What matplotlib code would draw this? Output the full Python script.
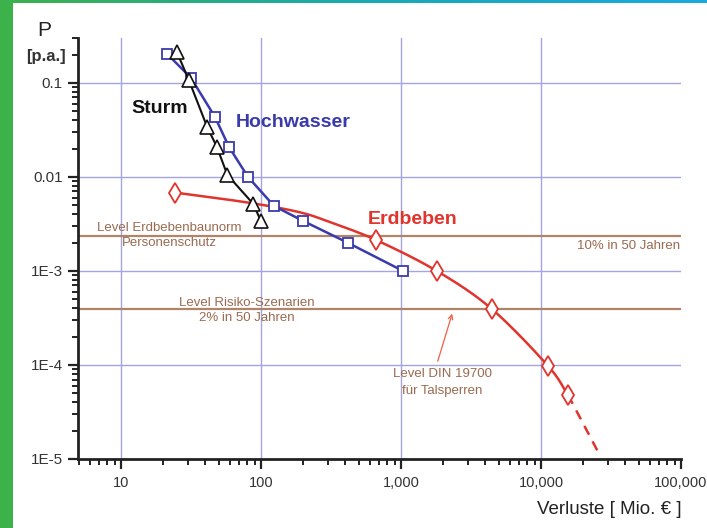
import numpy as np
import matplotlib
matplotlib.use("Agg")
import matplotlib.pyplot as plt
from matplotlib.ticker import LogLocator, FixedLocator, NullFormatter
from matplotlib.colors import LinearSegmentedColormap

plt.rcParams['font.family'] = ['Liberation Sans', 'DejaVu Sans']

# ---------------- data ----------------
sturm_x = [25.0, 30.6, 41.3, 48.3, 57.5, 88.1, 99.5]
sturm_y = [0.215, 0.106, 0.0338, 0.0210, 0.0105, 0.00516, 0.00343]

hoch_x = [21.3, 31.6, 46.9, 59.1, 80.7, 124, 200, 418, 1033]
hoch_y = [0.204, 0.113, 0.0434, 0.0208, 0.0100, 0.0049, 0.0034, 0.00199, 0.0010]

erd_curve_x = [24.5, 83, 190, 311, 660, 1800, 4450, 11200, 15600]
erd_curve_y = [0.0068, 0.0053, 0.0042, 0.0033, 0.00214, 0.0010, 0.000394, 9.8e-5, 4.8e-5]
erd_mark_x = [24.5, 660, 1800, 4450, 11200, 15600]
erd_mark_y = [0.0068, 0.00214, 0.0010, 0.000394, 9.8e-5, 4.8e-5]
erd_dash_x = [15600, 25500]
erd_dash_y = [4.8e-5, 1.2e-5]

level_10pct = 0.00235
level_2pct = 0.000394

x_ticks = [10, 100, 1000, 10000, 100000]
x_ticklabels = ["10", "100", "1,000", "10,000", "100,000"]
y_ticks = [1e-5, 1e-4, 1e-3, 1e-2, 1e-1]
y_ticklabels = ["1E-5", "1E-4", "1E-3", "0.01", "0.1"]

# ---------------- helpers ----------------
def catmull_rom(xs, ys, n=20):
    P = np.column_stack([np.log10(xs), np.log10(ys)])
    P = np.vstack([2 * P[0] - P[1], P, 2 * P[-1] - P[-2]])
    out = []
    for i in range(1, len(P) - 2):
        p0, p1, p2, p3 = P[i - 1], P[i], P[i + 1], P[i + 2]
        t = np.linspace(0, 1, n, endpoint=False)[:, None]
        seg = 0.5 * ((2 * p1) + (-p0 + p2) * t + (2 * p0 - 5 * p1 + 4 * p2 - p3) * t ** 2
                     + (-p0 + 3 * p1 - 3 * p2 + p3) * t ** 3)
        out.append(seg)
    out.append(P[-2][None, :])
    out = np.vstack(out)
    return 10 ** out[:, 0], 10 ** out[:, 1]

W, H = 707, 528
fig = plt.figure(figsize=(W / 100, H / 100), dpi=100)
fig.patch.set_facecolor('white')

# decorative borders
bax = fig.add_axes([0, 0, 1, 1], zorder=-5)
bax.add_patch(plt.Rectangle((0, 0), 13, H, color='#3db14a', lw=0))
grad = np.linspace(0, 1, 256)[None, :]
cm = LinearSegmentedColormap.from_list('g', ['#3db14a', '#19aab0', '#19a9e0'])
bax.imshow(grad, extent=[0, W, 3, 0], aspect='auto', cmap=cm)
bax.set_xlim(0, W); bax.set_ylim(H, 0)
bax.axis('off')

ax = fig.add_axes([78 / W, 1 - 459 / H, (681 - 78) / W, (459 - 38) / H])
ax.set_xscale('log'); ax.set_yscale('log')
ax.set_xlim(4.93, 100000)
ax.set_ylim(1e-5, 0.3)

grid_c = '#a4a4e2'
for xv in x_ticks[:-1]:
    ax.axvline(xv, color=grid_c, lw=1.0, zorder=0)
for yv in y_ticks[1:]:
    ax.axhline(yv, color=grid_c, lw=1.0, zorder=0)

for s in ['top', 'right']:
    ax.spines[s].set_visible(False)
for s in ['left', 'bottom']:
    ax.spines[s].set_linewidth(2.0)
    ax.spines[s].set_color('#222222')

ax.xaxis.set_major_locator(FixedLocator(x_ticks))
ax.set_xticklabels(x_ticklabels)
ax.yaxis.set_major_locator(FixedLocator(y_ticks))
ax.set_yticklabels(y_ticklabels)
ax.xaxis.set_minor_locator(LogLocator(base=10, subs=np.arange(2, 10)))
ax.yaxis.set_minor_locator(LogLocator(base=10, subs=np.arange(2, 10)))
ax.xaxis.set_minor_formatter(NullFormatter())
ax.yaxis.set_minor_formatter(NullFormatter())
ax.tick_params(which='major', length=7, width=1.6, color='#222222', labelcolor='#333333')
ax.tick_params(axis='y', which='major', labelsize=11, pad=4)
ax.tick_params(axis='x', which='major', labelsize=10.5, pad=5)
ax.tick_params(which='minor', length=4, width=1.4, color='#222222')

brown = '#b08468'
ax.axhline(level_10pct, color=brown, lw=1.6, zorder=1)
ax.axhline(level_2pct, color=brown, lw=1.6, zorder=1)

red = '#e0342c'
blue = '#3a3aad'
cx, cy = catmull_rom(erd_curve_x, erd_curve_y)
ax.plot(cx, cy, color=red, lw=1.8, zorder=2)
ax.plot(erd_dash_x, erd_dash_y, color=red, lw=1.8, ls=(0, (4, 3)), zorder=2)
ax.plot(erd_mark_x, erd_mark_y, ls='none', marker='d', ms=10.5, mfc='white', mec=red, mew=1.3, zorder=5)

ax.plot(hoch_x, hoch_y, color=blue, lw=1.8, marker='s', ms=7, mfc='white', mec=blue, mew=1.3, zorder=4)
ax.plot(sturm_x, sturm_y, color='#111111', lw=1.5, marker='^', ms=9.5, mfc='white', mec='#111111', mew=1.2, zorder=6)

# labels
ax.text(19.0, 0.054, 'Sturm', fontsize=14, fontweight='bold', color='#111111', ha='center', va='center')
ax.text(169, 0.0375, 'Hochwasser', fontsize=14, fontweight='bold', color=blue, ha='center', va='center')
ax.text(1218, 0.00349, 'Erdbeben', fontsize=14, fontweight='bold', color=red, ha='center', va='center')

tb = '#9a6a50'
fs_lvl = 9.5
ax.text(22.0, 0.00286, 'Level Erdbebenbaunorm', fontsize=fs_lvl, color=tb, ha='center', va='center')
ax.text(22.0, 0.00199, 'Personenschutz', fontsize=fs_lvl, color=tb, ha='center', va='center')
ax.text(98000, 0.00185, '10% in 50 Jahren', fontsize=fs_lvl, color=tb, ha='right', va='center')
ax.text(79.4, 4.57e-4, 'Level Risiko-Szenarien', fontsize=fs_lvl, color=tb, ha='center', va='center')
ax.text(79.4, 3.16e-4, '2% in 50 Jahren', fontsize=fs_lvl, color=tb, ha='center', va='center')
ax.text(1963, 8.0e-5, 'Level DIN 19700', fontsize=fs_lvl, color=tb, ha='center', va='center')
ax.text(1963, 5.28e-5, 'für Talsperren', fontsize=fs_lvl, color=tb, ha='center', va='center')
ax.annotate('', xy=(2352, 3.75e-4), xytext=(1807, 1.03e-4),
            arrowprops=dict(arrowstyle='->', color='#f06040', lw=0.9, mutation_scale=8), zorder=3)

fig.text(44 / W, 1 - 31 / H, 'P', fontsize=15, color='#222222', ha='center', va='center')
fig.text(46 / W, 1 - 56 / H, '[p.a.]', fontsize=12, fontweight='bold', color='#333333', ha='center', va='center')
fig.text(682 / W, 1 - 509 / H, 'Verluste [ Mio. € ]', fontsize=13.5, color='#222222', ha='right', va='center')

fig.savefig('out.png', dpi=100, facecolor='white')
